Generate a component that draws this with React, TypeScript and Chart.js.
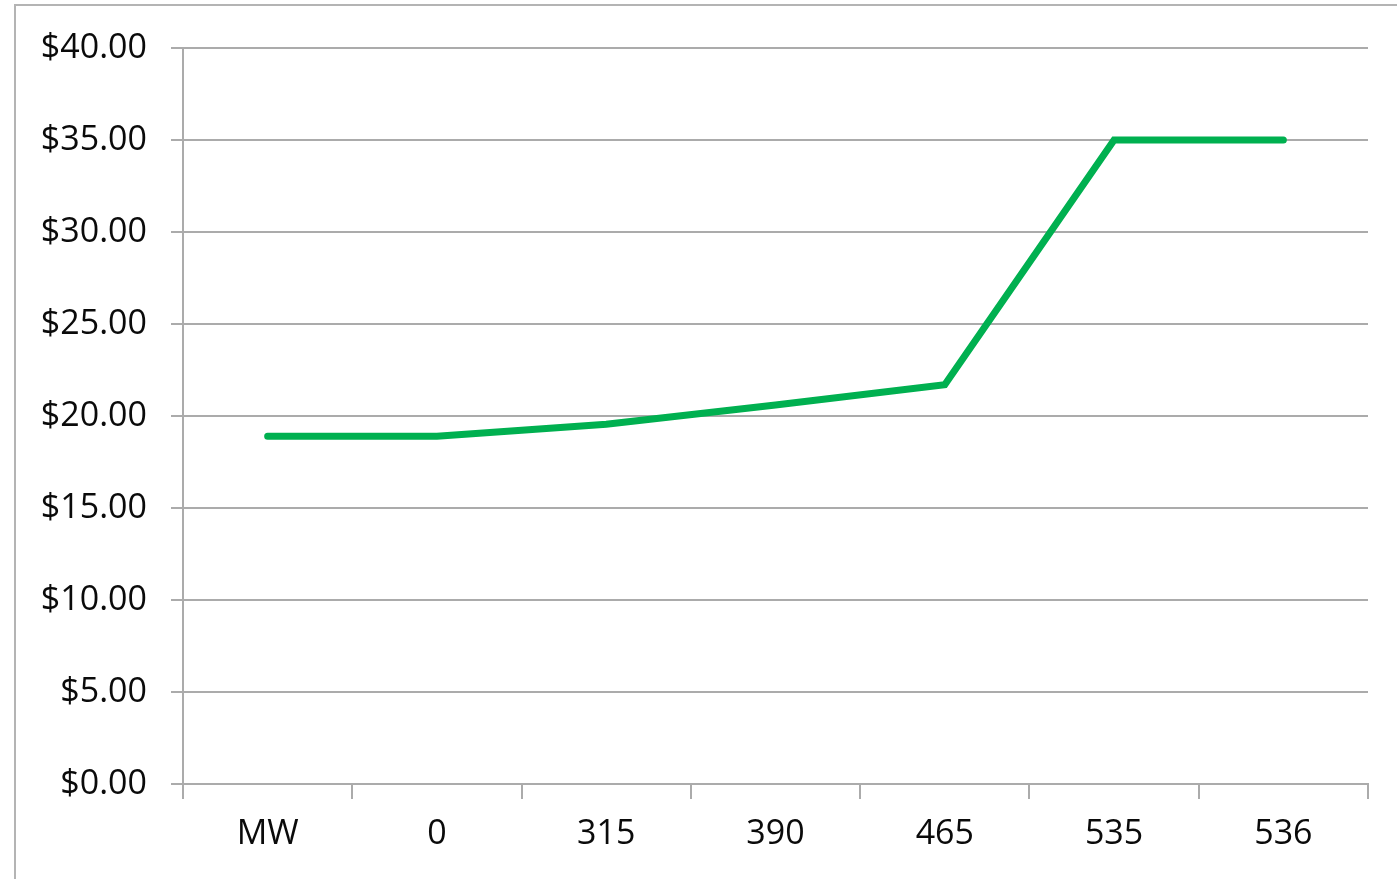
import React, { useEffect, useRef } from "react";
import { Chart, registerables } from "chart.js";

Chart.register(...registerables);

const categories = ["MW", "0", "315", "390", "465", "535", "536"];
const prices = [18.9, 18.9, 19.55, 20.6, 21.7, 35.0, 35.0];
const yTicks = [0, 5, 10, 15, 20, 25, 30, 35, 40];

const GRID = "#ababab";
const FONT = "'Open Sans', 'Noto Sans', sans-serif";

export default function App() {
  const ref = useRef<HTMLCanvasElement | null>(null);

  useEffect(() => {
    const canvas = ref.current;
    if (!canvas) return;
    const chart = new Chart(canvas, {
      type: "line",
      data: {
        labels: categories,
        datasets: [
          {
            label: "Price",
            data: prices,
            borderColor: "#00b050",
            backgroundColor: "#00b050",
            borderWidth: 7,
            borderCapStyle: "round",
            borderJoinStyle: "miter",
            pointRadius: 0,
            tension: 0,
            fill: false,
          },
        ],
      },
      options: {
        responsive: false,
        animation: false,
        layout: { padding: { left: 0, right: 29, top: 48, bottom: 0 } },
        plugins: {
          legend: { display: false },
          tooltip: { enabled: false },
        },
        scales: {
          x: {
            type: "category",
            offset: true,
            grid: {
              offset: true,
              drawOnChartArea: false,
              drawTicks: true,
              tickLength: 15,
              color: GRID,
              lineWidth: 2,
            },
            border: { display: true, color: GRID, width: 2 },
            ticks: {
              color: "#0a0a0a",
              font: { family: FONT, size: 34 },
              padding: 15,
              maxRotation: 0,
              autoSkip: false,
            },
            afterFit: (scale: any) => {
              scale.height = 95;
            },
          },
          y: {
            min: 0,
            max: 40,
            afterBuildTicks: (scale: any) => {
              scale.ticks = yTicks.map((v) => ({ value: v }));
            },
            grid: {
              color: GRID,
              lineWidth: 2,
              drawTicks: true,
              tickLength: 12,
            },
            border: { display: true, color: GRID, width: 2 },
            ticks: {
              color: "#0a0a0a",
              font: { family: FONT, size: 34 },
              padding: 24,
              callback: (v: any) => "$" + Number(v).toFixed(2),
            },
            afterFit: (scale: any) => {
              scale.width = 183;
            },
          },
        },
      },
    });
    return () => chart.destroy();
  }, []);

  return (
    <div
      style={{
        position: "absolute",
        left: 0,
        top: 0,
        width: 1397,
        height: 879,
        overflow: "hidden",
        background: "#fff",
      }}
    >
      <div
        style={{
          position: "absolute",
          left: 14,
          top: 4,
          width: 1500,
          height: 1000,
          border: "2px solid #b4b4b4",
          boxSizing: "border-box",
        }}
      />
      <canvas
        ref={ref}
        width={1397}
        height={879}
        style={{ position: "absolute", left: 0, top: 0, width: 1397, height: 879 }}
      />
    </div>
  );
}
